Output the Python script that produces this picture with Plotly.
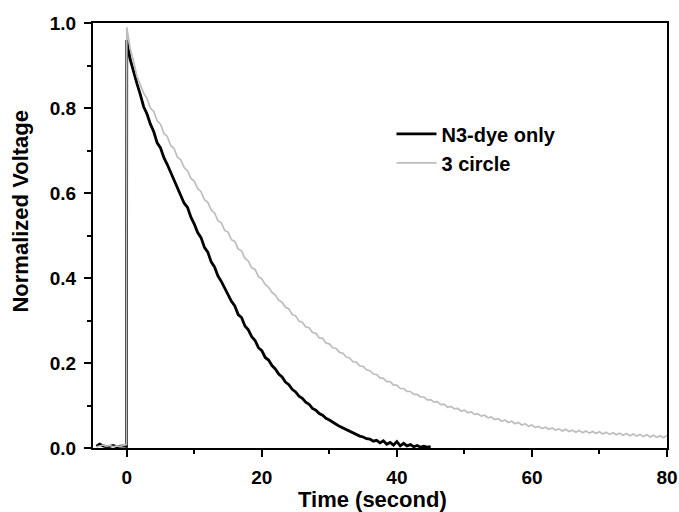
import plotly.graph_objects as go

# ---- data ----
pre_t = [-4.5, -4.0, -3.5, -3.0, -2.5, -2.0, -1.5, -1.0, -0.5, -0.05]
pre_black = [0.004, 0.009, 0.005, 0.003, 0.004, 0.006, 0.003, 0.004, 0.005, 0.004]
pre_gray = [0.003, 0.005, 0.007, 0.004, 0.006, 0.003, 0.005, 0.004, 0.006, 0.008]

dt = 0.5
black_vals = [
    0.96, 0.915, 0.885, 0.858, 0.832, 0.803, 0.786, 0.762, 0.744, 0.718,
    0.706, 0.683, 0.667, 0.649, 0.63, 0.613, 0.598, 0.576, 0.566, 0.543,
    0.527, 0.507, 0.495, 0.472, 0.461, 0.438, 0.426, 0.405, 0.392, 0.375,
    0.362, 0.345, 0.334, 0.314, 0.307, 0.287, 0.278, 0.262, 0.253, 0.236,
    0.229, 0.213, 0.207, 0.194, 0.186, 0.174, 0.167, 0.155, 0.149, 0.138,
    0.132, 0.122, 0.117, 0.108, 0.103, 0.093, 0.089, 0.081, 0.077, 0.07,
    0.066, 0.06, 0.056, 0.051, 0.047, 0.043, 0.039, 0.035, 0.032, 0.028,
    0.026, 0.022, 0.021, 0.016, 0.018, 0.012, 0.017, 0.009, 0.013, 0.007,
    0.015, 0.005, 0.011, 0.005, 0.008, 0.003, 0.006, 0.002, 0.004, 0.002,
    0.003,
]
gray_vals = [
    0.99, 0.94, 0.91, 0.875, 0.855, 0.835, 0.822, 0.80, 0.792, 0.77,
    0.762, 0.74, 0.733, 0.712, 0.705, 0.684, 0.678, 0.66, 0.652, 0.634,
    0.628, 0.61, 0.603, 0.584, 0.578, 0.56, 0.553, 0.535, 0.53, 0.512,
    0.508, 0.49, 0.486, 0.468, 0.464, 0.446, 0.44, 0.424, 0.42, 0.403,
    0.398, 0.385, 0.378, 0.366, 0.36, 0.348, 0.343, 0.331, 0.327, 0.314,
    0.311, 0.299, 0.296, 0.285, 0.283, 0.272, 0.27, 0.259, 0.258, 0.247,
    0.245, 0.236, 0.234, 0.225, 0.223, 0.214, 0.212, 0.203, 0.202, 0.193,
    0.192, 0.184, 0.182, 0.174, 0.173, 0.165, 0.164, 0.156, 0.156, 0.148,
    0.148, 0.14, 0.14, 0.133, 0.133, 0.126, 0.126, 0.12, 0.12, 0.113,
    0.114, 0.108, 0.109, 0.102, 0.103, 0.096, 0.098, 0.092, 0.093, 0.087,
    0.089, 0.083, 0.085, 0.079, 0.08, 0.075, 0.077, 0.071, 0.073, 0.067,
    0.069, 0.063, 0.066, 0.06, 0.063, 0.057, 0.06, 0.054, 0.057, 0.051,
    0.054, 0.048, 0.051, 0.046, 0.049, 0.044, 0.047, 0.042, 0.045, 0.04,
    0.044, 0.039, 0.042, 0.037, 0.041, 0.036, 0.04, 0.035, 0.039, 0.034,
    0.038, 0.033, 0.037, 0.032, 0.036, 0.031, 0.035, 0.03, 0.034, 0.029,
    0.033, 0.028, 0.032, 0.027, 0.031, 0.026, 0.03, 0.025, 0.029, 0.024,
    0.03,
]

black_t = pre_t + [i * dt for i in range(len(black_vals))]
gray_t = pre_t + [i * dt for i in range(len(gray_vals))]
black_y = pre_black + black_vals
gray_y = pre_gray + gray_vals

x_ticks = [0, 20, 40, 60, 80]
y_ticks = [0.0, 0.2, 0.4, 0.6, 0.8, 1.0]
y_tick_text = ["0.0", "0.2", "0.4", "0.6", "0.8", "1.0"]
x_title = "Time (second)"
y_title = "Normalized Voltage"

FONT = "Liberation Sans, Arial, sans-serif"

fig = go.Figure()
fig.add_trace(go.Scatter(x=black_t, y=black_y, mode="lines", name="N3-dye only",
                         line=dict(color="black", width=2.8)))
fig.add_trace(go.Scatter(x=gray_t, y=gray_y, mode="lines", name="3 circle",
                         line=dict(color="#bdbdbd", width=1.7)))

axis_common = dict(
    showgrid=False, zeroline=False, showline=True, linecolor="black", linewidth=2,
    mirror=True, ticks="outside", ticklen=7, tickwidth=1.5, tickcolor="black",
    automargin=False,
    tickfont=dict(family=FONT, size=19, color="black", weight="bold"),
)

fig.update_layout(
    width=679, height=512,
    margin=dict(l=93, r=12, t=23, b=64),
    paper_bgcolor="white", plot_bgcolor="white",
    showlegend=True,
    legend=dict(x=0.52, y=0.785, xanchor="left", yanchor="top",
                bgcolor="rgba(0,0,0,0)", borderwidth=0,
                font=dict(family=FONT, size=20, color="black", weight="bold"),
                tracegroupgap=0, itemwidth=40),
    xaxis=dict(range=[-5, 80], tickvals=x_ticks, ticklabelstandoff=4,
               minor=dict(ticks="outside", ticklen=4, tickwidth=1.5, tickcolor="black", dtick=10, tick0=0),
               **axis_common),
    yaxis=dict(range=[0, 1.0], tickvals=y_ticks, ticktext=y_tick_text, ticklabelstandoff=4,
               minor=dict(ticks="outside", ticklen=4, tickwidth=1.5, tickcolor="black", dtick=0.1, tick0=0),
               **axis_common),
    annotations=[
        dict(text=x_title, xref="paper", yref="paper", x=0.487, y=-0.122,
             xanchor="center", yanchor="middle", showarrow=False,
             font=dict(family=FONT, size=22, color="black", weight="bold")),
        dict(text=y_title, xref="paper", yref="paper", x=-0.128, y=0.5576,
             xanchor="center", yanchor="middle", showarrow=False, textangle=-90,
             font=dict(family=FONT, size=22, color="black", weight="bold")),
    ],
)

fig.write_html("out.html", config={"displayModeBar": False},
               post_script="document.body.style.margin='0';")
